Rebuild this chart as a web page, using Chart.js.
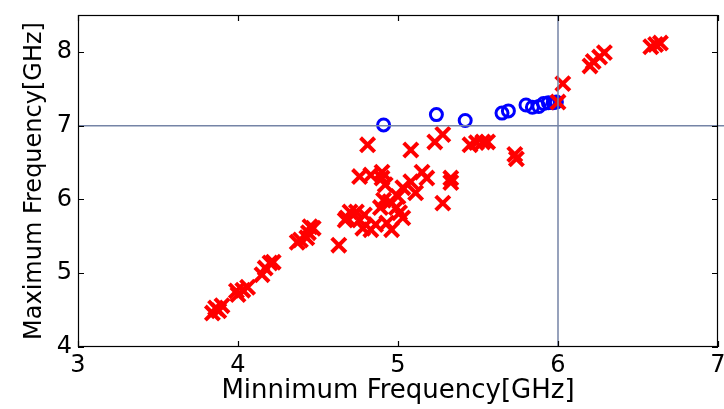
<!DOCTYPE html>
<html>
<head>
<meta charset="utf-8">
<script src="https://cdn.jsdelivr.net/npm/chart.js@4.4.1/dist/chart.umd.min.js"></script>
<style>
  html, body { margin: 0; padding: 0; background: #fff; }
  #wrap { width: 724px; height: 409px; }
</style>
</head>
<body>
<div id="wrap"><canvas id="freqChart" width="724" height="409"></canvas></div>
<script>
// min / max frequency pairs, GHz
const crossMin = [3.86, 3.88, 3.84, 3.90, 4.00, 4.03, 4.06, 3.99, 4.15, 4.17, 4.20, 4.22,
  4.37, 4.39, 4.44, 4.45, 4.43, 4.47, 4.63, 4.67, 4.70, 4.74, 4.76, 4.78, 4.83, 4.68,
  4.96, 4.93, 4.89, 4.91, 4.95, 5.00, 4.99, 5.01, 5.03, 5.03, 5.08, 5.11, 5.28, 4.76,
  4.83, 4.90, 4.90, 5.15, 5.18, 5.33, 5.33, 4.81, 5.08, 5.23, 5.28, 5.45, 5.49, 5.53,
  5.56, 5.73, 5.74, 6.00, 6.03, 6.20, 6.22, 6.26, 6.29, 6.58, 6.61, 6.64, 4.92, 4.79, 4.86];
const crossMax = [4.53, 4.49, 4.46, 4.56, 4.71, 4.77, 4.81, 4.76, 4.98, 5.07, 5.14, 5.15,
  5.42, 5.45, 5.55, 5.63, 5.48, 5.61, 5.38, 5.72, 5.83, 5.83, 5.72, 5.61, 5.59, 5.75,
  5.59, 5.68, 5.89, 5.99, 5.97, 6.04, 5.89, 5.82, 5.75, 6.16, 6.24, 6.09, 5.95, 6.31,
  6.33, 6.37, 6.29, 6.37, 6.29, 6.29, 6.23, 6.74, 6.67, 6.78, 6.88, 6.74, 6.77, 6.78,
  6.78, 6.61, 6.55, 7.32, 7.57, 7.81, 7.87, 7.93, 7.99, 8.07, 8.10, 8.12, 6.20, 5.79, 5.66];

const circleMin = [4.91, 5.24, 5.42, 5.65, 5.69, 5.80, 5.84, 5.88, 5.91, 5.94, 5.97, 5.99];
const circleMax = [7.01, 7.15, 7.07, 7.17, 7.20, 7.28, 7.25, 7.26, 7.30, 7.31, 7.31, 7.32];

const xTicks = [3, 4, 5, 6, 7];
const yTicks = [4, 5, 6, 7, 8];
const refX = 6;
const refY = 7;

const toPoints = (xs, ys) => xs.map((x, i) => ({ x: x, y: ys[i] }));
const noPadding = () => ({ left: 0, top: 0, right: 0, bottom: 0 });

// reference lines, box and inward ticks like the original plot
const framePlugin = {
  id: 'frame',
  afterDatasetsDraw(chart) {
    const { ctx, chartArea: a, scales } = chart;
    ctx.save();
    ctx.strokeStyle = '#7584a6';
    ctx.lineWidth = 1.5;
    const rx = scales.x.getPixelForValue(refX);
    const ry = scales.y.getPixelForValue(refY);
    ctx.beginPath();
    ctx.moveTo(rx, a.top);
    ctx.lineTo(rx, a.bottom);
    ctx.moveTo(a.left, ry);
    ctx.lineTo(chart.width, ry);
    ctx.stroke();

    ctx.strokeStyle = '#000';
    ctx.lineWidth = 1.2;
    ctx.strokeRect(a.left + 0.5, a.top + 0.5, a.right - a.left - 1, a.bottom - a.top - 1);
    ctx.beginPath();
    xTicks.forEach(v => {
      const p = Math.round(scales.x.getPixelForValue(v)) + 0.5;
      ctx.moveTo(p, a.bottom); ctx.lineTo(p, a.bottom - 6);
      ctx.moveTo(p, a.top); ctx.lineTo(p, a.top + 6);
    });
    yTicks.forEach(v => {
      const p = Math.round(scales.y.getPixelForValue(v)) + 0.5;
      ctx.moveTo(a.left, p); ctx.lineTo(a.left + 6, p);
      ctx.moveTo(a.right, p); ctx.lineTo(a.right - 6, p);
    });
    ctx.stroke();
    ctx.restore();
  }
};

const ctx = document.getElementById('freqChart');
new Chart(ctx, {
  type: 'scatter',
  data: {
    datasets: [{
      data: toPoints(crossMin, crossMax),
      pointStyle: 'crossRot',
      pointRadius: 10,
      pointBorderWidth: 4,
      pointBorderColor: '#ff0000',
      pointBackgroundColor: '#ff0000'
    }, {
      data: toPoints(circleMin, circleMax),
      pointStyle: 'circle',
      pointRadius: 6,
      pointBorderWidth: 3,
      pointBorderColor: '#0000ff',
      pointBackgroundColor: 'rgba(0,0,0,0)'
    }]
  },
  options: {
    responsive: false,
    animation: false,
    layout: { autoPadding: false, padding: { top: 15, right: 6, left: 0, bottom: 0 } },
    scales: {
      x: {
        type: 'linear',
        min: 3,
        max: 7,
        afterBuildTicks: (scale) => { scale.ticks = xTicks.map(v => ({ value: v })); },
        afterFit: (scale) => {
          scale.height = 62;
          scale.paddingLeft = 0;
          scale.paddingRight = 0;
          scale.getPadding = noPadding;
        },
        grid: { display: false, drawTicks: false },
        border: { display: false },
        ticks: { color: '#000', padding: 4, font: { family: 'DejaVu Sans', size: 24 } },
        title: {
          display: true,
          text: 'Minnimum Frequency[GHz]',
          color: '#000',
          padding: { top: 0, bottom: 2 },
          font: { family: 'DejaVu Sans', size: 26 }
        }
      },
      y: {
        type: 'linear',
        min: 4,
        max: 8.5,
        afterBuildTicks: (scale) => { scale.ticks = yTicks.map(v => ({ value: v })); },
        afterFit: (scale) => {
          scale.width = 78;
          scale.paddingTop = 0;
          scale.paddingBottom = 0;
          scale.getPadding = noPadding;
        },
        grid: { display: false, drawTicks: false },
        border: { display: false },
        ticks: { color: '#000', padding: 6, font: { family: 'DejaVu Sans', size: 24 } },
        title: {
          display: true,
          text: 'Maximum Frequency[GHz]',
          color: '#000',
          padding: { top: 20, bottom: 0 },
          font: { family: 'DejaVu Sans', size: 24 }
        }
      }
    },
    plugins: {
      legend: { display: false },
      tooltip: { enabled: false }
    }
  },
  plugins: [framePlugin]
});
</script>
</body>
</html>
